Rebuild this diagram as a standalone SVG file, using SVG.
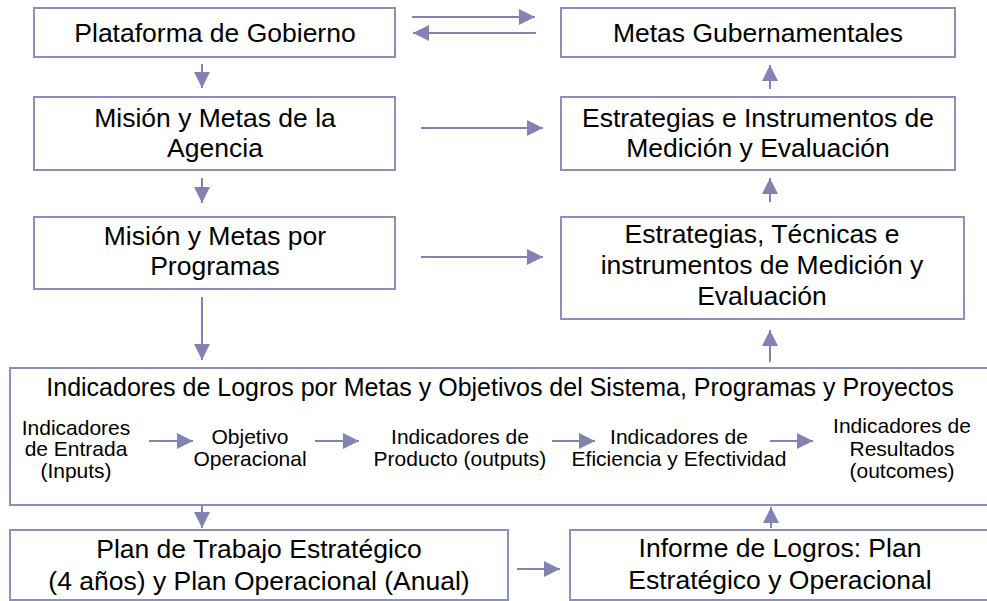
<svg xmlns="http://www.w3.org/2000/svg" width="987" height="601" viewBox="0 0 987 601">
<style>
.box{fill:#ffffff;stroke:#8e8ebd;stroke-width:2}
.t{font-family:"Liberation Sans",Arial,sans-serif;font-size:26.5px;fill:#000;text-anchor:middle}
.tt{font-family:"Liberation Sans",Arial,sans-serif;font-size:25px;fill:#000;text-anchor:middle}
.s{font-family:"Liberation Sans",Arial,sans-serif;font-size:21px;fill:#000;text-anchor:middle}
.c{stroke:#8383b3;stroke-width:2;fill:none;marker-end:url(#ah)}
</style>
<defs>
<marker id="ah" markerUnits="userSpaceOnUse" markerWidth="17" markerHeight="17" refX="16" refY="8" orient="auto">
<path d="M0,0 L16,8 L0,16 z" fill="#8383b3"/>
</marker>
</defs>
<rect width="987" height="601" fill="#ffffff"/>
<g id="plataforma"><rect class="box" x="34" y="8" width="361" height="49"/><text class="t" x="215" y="42">Plataforma de Gobierno</text></g>
<g id="metas-gub"><rect class="box" x="561" y="8" width="394" height="49"/><text class="t" x="758" y="42">Metas Gubernamentales</text></g>
<g id="mision-agencia"><rect class="box" x="34" y="97" width="361" height="73"/><text class="t" x="215" y="127">Misión y Metas de la</text><text class="t" x="215" y="157">Agencia</text></g>
<g id="estrategias-instr"><rect class="box" x="561" y="97" width="394" height="73"/><text class="t" x="758" y="127">Estrategias e Instrumentos de</text><text class="t" x="758" y="157">Medición y Evaluación</text></g>
<g id="mision-programas"><rect class="box" x="34" y="217" width="361" height="72"/><text class="t" x="215" y="245">Misión y Metas por</text><text class="t" x="215" y="275">Programas</text></g>
<g id="estrategias-tecnicas"><rect class="box" x="561" y="217" width="403" height="102"/><text class="t" x="762" y="243">Estrategias, Técnicas e</text><text class="t" x="762" y="274">instrumentos de Medición y</text><text class="t" x="762" y="305">Evaluación</text></g>
<g id="indicadores"><rect class="box" x="10" y="368" width="985" height="137"/>
<text class="tt" x="500" y="396">Indicadores de Logros por Metas y Objetivos del Sistema, Programas y Proyectos</text>
<text class="s" x="76" y="435">Indicadores</text><text class="s" x="76" y="456">de Entrada</text><text class="s" x="76" y="478">(Inputs)</text>
<text class="s" x="250" y="444">Objetivo</text><text class="s" x="250" y="466">Operacional</text>
<text class="s" x="460" y="444">Indicadores de</text><text class="s" x="460" y="466">Producto (outputs)</text>
<text class="s" x="679" y="444">Indicadores de</text><text class="s" x="679" y="466">Eficiencia y Efectividad</text>
<text class="s" x="902" y="433">Indicadores de</text><text class="s" x="902" y="456">Resultados</text><text class="s" x="902" y="478">(outcomes)</text>
</g>
<g id="plan-trabajo"><rect class="box" x="10" y="530" width="498" height="70"/><text class="t" x="259" y="558">Plan de Trabajo Estratégico</text><text class="t" x="259" y="590">(4 años) y Plan Operacional (Anual)</text></g>
<g id="informe"><rect class="box" x="570" y="530" width="425" height="70"/><text class="t" x="780" y="557">Informe de Logros: Plan</text><text class="t" x="780" y="589">Estratégico y Operacional</text></g>
<g id="connectors">
<line class="c" x1="412" y1="17" x2="535" y2="17"/>
<line class="c" x1="536" y1="33" x2="413" y2="33"/>
<line class="c" x1="202" y1="64" x2="202" y2="88"/>
<line class="c" x1="421" y1="128" x2="543" y2="128"/>
<line class="c" x1="770" y1="89" x2="770" y2="65"/>
<line class="c" x1="202" y1="178" x2="202" y2="203"/>
<line class="c" x1="770" y1="202" x2="770" y2="178"/>
<line class="c" x1="421" y1="257" x2="543" y2="257"/>
<line class="c" x1="202" y1="297" x2="202" y2="360"/>
<line class="c" x1="770" y1="362" x2="770" y2="330"/>
<line class="c" x1="149" y1="441" x2="193" y2="441"/>
<line class="c" x1="315" y1="441" x2="359" y2="441"/>
<line class="c" x1="552" y1="441" x2="595" y2="441"/>
<line class="c" x1="770" y1="441" x2="813" y2="441"/>
<line class="c" x1="202" y1="505" x2="202" y2="528"/>
<line class="c" x1="771" y1="528" x2="771" y2="507"/>
<line class="c" x1="517" y1="569" x2="560" y2="569"/>
</g>
</svg>
